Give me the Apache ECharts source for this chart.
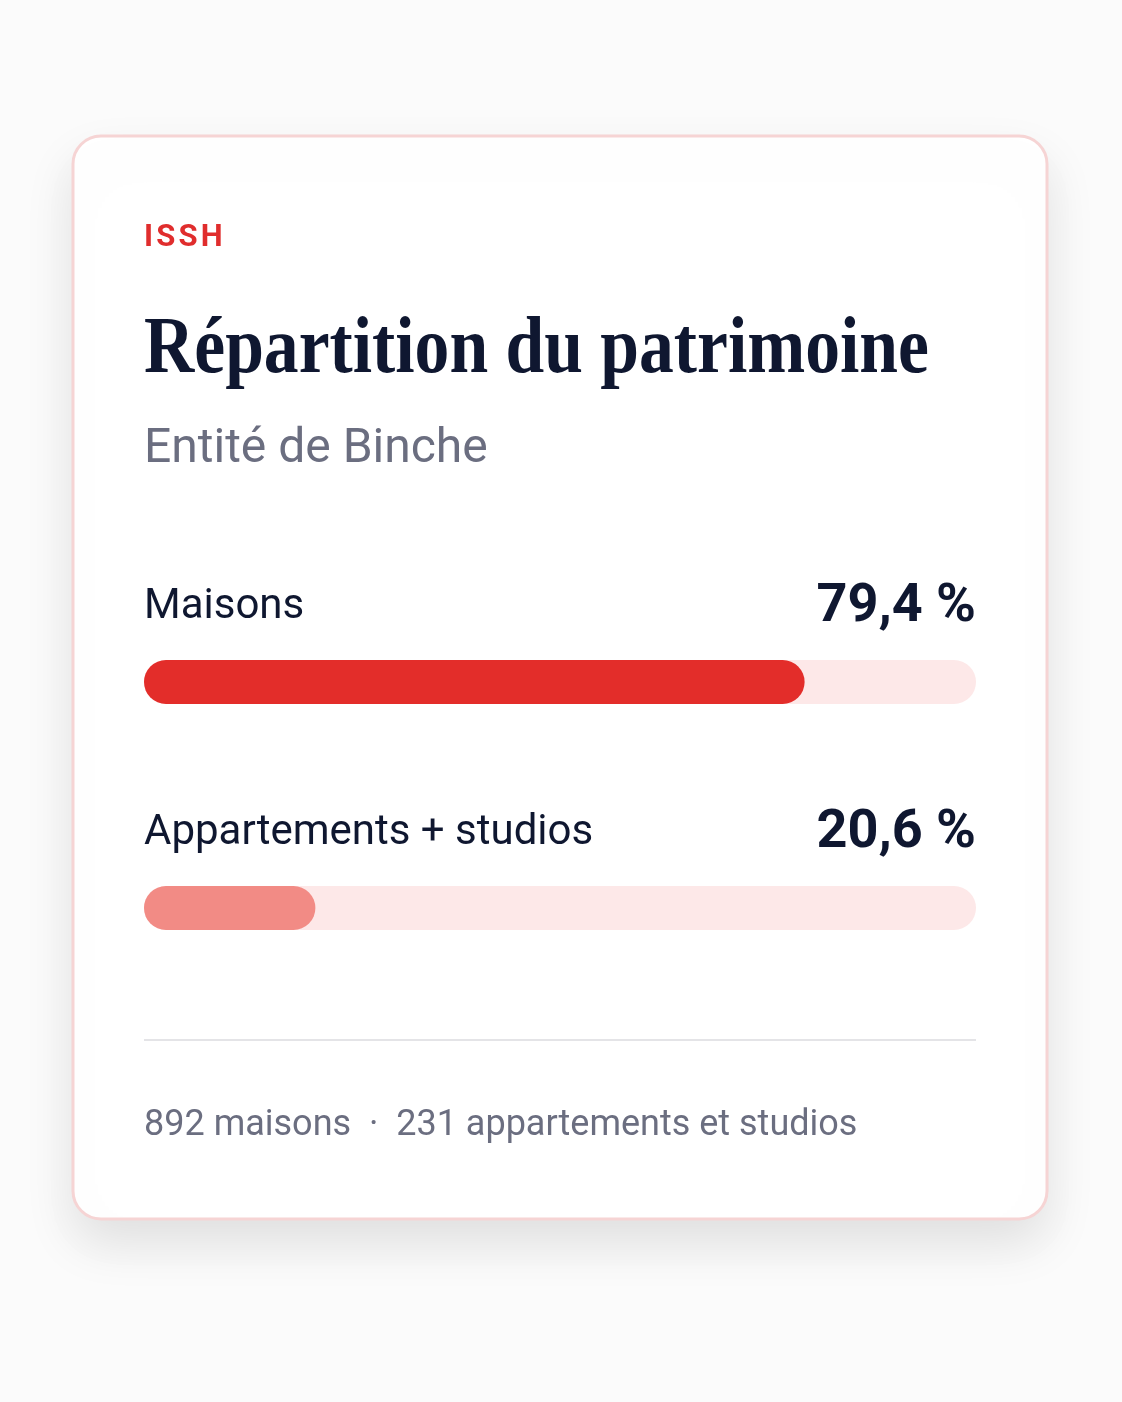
<!DOCTYPE html>
<html>
<head>
<meta charset="utf-8">
<script src="https://cdn.jsdelivr.net/npm/echarts@6/dist/echarts.min.js"></script>
<style>
  html, body { margin: 0; padding: 0; background: #fbfbfb; }
  #chart { width: 1122px; height: 1402px; }
</style>
</head>
<body>
<div id="chart"></div>
<script>
// data
var categories = ['Maisons', 'Appartements + studios'];
var shares = [79.4, 20.6];
var counts = [892, 231];
var countNames = ['maisons', 'appartements et studios'];
var barColors = ['#e32d2a', '#f28b85'];

var pctLabels = shares.map(function (v) {
    return v.toFixed(1).replace('.', ',') + ' %';
});
var footer = counts.map(function (c, i) {
    return c + ' ' + countNames[i];
}).join('  \u00b7  ');

var myChart = echarts.init(document.getElementById('chart'));
myChart.setOption({
    backgroundColor: '#fbfbfb',
    animation: false,
    graphic: [
        {
            type: 'rect', z: 0,
            shape: {x: 73, y: 136, width: 974, height: 1083, r: 28},
            style: {
                fill: '#ffffff', stroke: '#f6d4d4', lineWidth: 3,
                shadowBlur: 50, shadowOffsetY: 24, shadowColor: 'rgba(0,0,0,0.11)'
            }
        },
        {
            type: 'text', z: 1, x: 144, y: 238,
            style: {
                text: 'I\u200aS\u200aS\u200aH', fill: '#e02d2d',
                font: 'bold 31px Roboto', verticalAlign: 'middle'
            }
        },
        {
            type: 'text', z: 1, x: 144, y: 351, scaleX: 0.87, originX: 0,
            style: {
                text: 'Répartition du patrimoine', fill: '#0f1730',
                font: 'bold 80px "Liberation Serif"', verticalAlign: 'middle'
            }
        },
        {
            type: 'text', z: 1, x: 144, y: 450,
            style: {
                text: 'Entité de Binche', fill: '#6b6e80',
                font: '48px Roboto', verticalAlign: 'middle'
            }
        },
        {
            type: 'line', z: 1,
            shape: {x1: 144, y1: 1040, x2: 976, y2: 1040},
            style: {stroke: '#e4e4e7', lineWidth: 2}
        },
        {
            type: 'text', z: 1, x: 144, y: 1126,
            style: {
                text: footer, fill: '#6b6e80',
                font: '36px Roboto', verticalAlign: 'middle'
            }
        }
    ],
    grid: {left: 144, right: 146, top: 569, height: 452},
    xAxis: {type: 'value', min: 0, max: 100, show: false},
    yAxis: {
        type: 'category', data: categories, inverse: true, show: false
    },
    series: [
        {
            name: 'track',
            type: 'bar',
            barWidth: 44,
            barGap: '-100%',
            silent: true,
            data: categories.map(function () { return 100; }),
            itemStyle: {color: '#fde8e8', borderRadius: 22},
            label: {
                show: true,
                position: ['100%', -53],
                align: 'right',
                verticalAlign: 'middle',
                formatter: function (p) { return pctLabels[p.dataIndex]; },
                fontFamily: 'Roboto',
                fontWeight: 'bold',
                fontSize: 54,
                color: '#0f1730'
            }
        },
        {
            name: 'share',
            type: 'bar',
            barWidth: 44,
            barGap: '-100%',
            data: shares.map(function (v, i) {
                return {value: v, itemStyle: {color: barColors[i]}};
            }),
            itemStyle: {borderRadius: 22},
            label: {
                show: true,
                position: [0, -53],
                align: 'left',
                verticalAlign: 'middle',
                formatter: '{b}',
                fontFamily: 'Roboto',
                fontSize: 42,
                color: '#0f1730'
            }
        }
    ]
});
</script>
</body>
</html>
